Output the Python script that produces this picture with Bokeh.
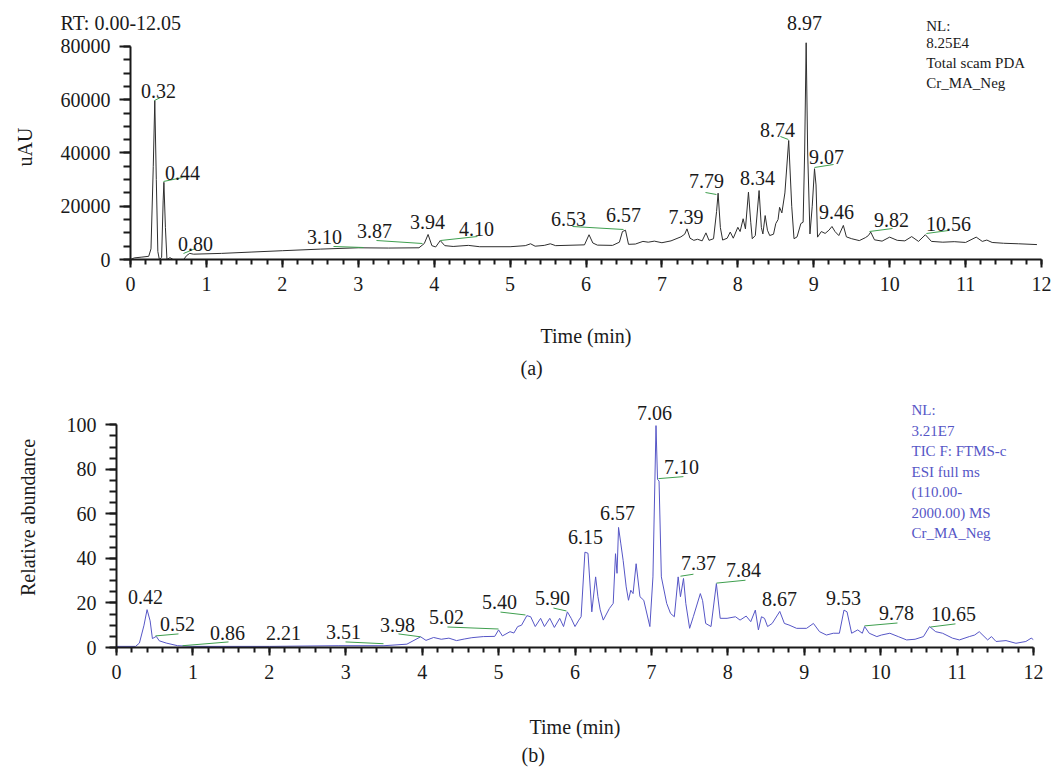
from bokeh.plotting import figure
from bokeh.models import (Range1d, SingleIntervalTicker, BasicTickFormatter,
                          ColumnDataSource, LabelSet, Label, Title)
from bokeh.core.properties import value
from bokeh.embed import file_html
from bokeh.resources import INLINE

FONT = "Liberation Serif"
INK = "#1a1a1a"
GREEN = "#3f9f4f"
BLUE = "#5656c6"

# ---------------- (a) PDA trace ----------------
pda_time = [0.00, 0.05, 0.15, 0.24, 0.27, 0.30, 0.32, 0.34, 0.36, 0.38, 0.41, 0.43, 0.44, 0.46,
            0.48, 0.52, 0.56, 0.70, 0.74, 0.78, 0.83, 1.2, 1.6, 2.0, 2.5, 3.0, 3.4, 3.8, 3.87,
            3.92, 3.97, 4.02, 4.08, 4.14, 4.25, 4.45, 4.6, 5.0, 5.2, 5.27, 5.33, 5.45, 5.53, 5.6,
            5.98, 6.04, 6.09, 6.15, 6.35, 6.44, 6.48, 6.52, 6.56, 6.65, 6.75, 6.82, 6.9, 7.0,
            7.12, 7.25, 7.3, 7.33, 7.37, 7.42, 7.47, 7.53, 7.58, 7.62, 7.68, 7.72, 7.74, 7.77,
            7.80, 7.86, 7.90, 7.94, 8.00, 8.03, 8.07, 8.10, 8.14, 8.17, 8.19, 8.23, 8.28, 8.31,
            8.33, 8.36, 8.39, 8.42, 8.47, 8.50, 8.53, 8.55, 8.58, 8.62, 8.67, 8.71, 8.74, 8.78,
            8.83, 8.86, 8.88, 8.90, 8.92, 8.95, 8.98, 9.01, 9.03, 9.05, 9.10, 9.15, 9.20, 9.24,
            9.28, 9.33, 9.39, 9.43, 9.5, 9.6, 9.68, 9.72, 9.75, 9.80, 9.9, 10.0, 10.1, 10.2,
            10.29, 10.38, 10.47, 10.55, 10.7, 10.85, 11.0, 11.14, 11.22, 11.28, 11.35, 11.5,
            11.7, 11.94]
pda_uau = [0, 600, 900, 1200, 4000, 35000, 59700, 30000, 3000, 0, 800, 22000, 29000, 12000,
           0, 700, 0, 0, 1500, 2300, 2000, 2300, 2800, 3300, 3900, 4400, 4300, 4400, 6000,
           9400, 5200, 4700, 7100, 5200, 4900, 5300, 4800, 4800, 5200, 5900, 5000, 5300, 5900, 5200,
           5500, 9300, 6200, 5400, 5300, 6500, 10500, 11000, 5700, 5800, 6800, 6500, 6900, 6300,
           7000, 8500, 9500, 11500, 8000, 7200, 7600, 7000, 10000, 7200, 7800, 18000, 24900, 12000,
           7300, 8000, 10300, 8000, 12100, 10500, 15300, 11500, 25300, 14000, 7800, 9000, 25900, 12000,
           9600, 16500, 11000, 9000, 9500, 13500, 15000, 19600, 17500, 25000, 44700, 20000, 7800, 8500,
           13500, 14000, 40000, 81400, 40000, 9600, 20000, 34100, 28000, 8400, 10500, 9800, 11000, 12400,
           10500, 9000, 12800, 8500, 7800, 7100, 8200, 9000, 10300, 7400, 6900, 8400, 7200, 7000,
           8600, 6800, 9300, 6800, 6500, 6700, 6400, 8400, 6800, 7300, 6400, 6100,
           5900, 5600]

pda_peak_text = ["0.32", "0.44", "0.80", "3.10", "3.87", "3.94", "4.10", "6.53", "6.57",
                 "7.39", "7.79", "8.34", "8.74", "8.97", "9.07", "9.46", "9.82", "10.56"]
pda_label_x = [0.369, 0.685, 0.856, 2.555, 3.214, 3.912, 4.557, 5.769, 6.494,
               7.317, 7.587, 8.259, 8.522, 8.878, 9.168, 9.300, 10.024, 10.774]
pda_label_y = [63474, 32676, 6009, 8263, 10892, 13897, 11643, 15399, 16526,
               15775, 29671, 30423, 48451, 88826, 38310, 17653, 14648, 13521]
pda_lead_x0 = [0.316, 0.435, 0.698, 2.674, 3.240, 4.083, 5.822, 7.574, 8.561, 9.010, 9.734, 10.484]
pda_lead_y0 = [59718, 29296, 2254, 4883, 7136, 7136, 12394, 25164, 46197, 34554, 10516, 9764]
pda_lead_x1 = [0.395, 0.685, 0.856, 3.069, 3.846, 4.570, 6.494, 7.718, 8.666, 9.261, 10.037, 10.774]
pda_lead_y1 = [60845, 30798, 4131, 4507, 6009, 8638, 11268, 24413, 45070, 35681, 11643, 10892]

# ---------------- (b) TIC trace ----------------
tic_time = [0.00, 0.25, 0.30, 0.36, 0.40, 0.44, 0.47, 0.52, 0.56, 0.65, 0.80, 1.00, 2.00, 2.90,
            3.50, 3.80, 3.98, 4.05, 4.15, 4.25, 4.35, 4.45, 4.55, 4.65, 4.80, 4.95, 5.00, 5.05,
            5.15, 5.20, 5.25, 5.30, 5.37, 5.42, 5.48, 5.55, 5.60, 5.67, 5.73, 5.80, 5.85, 5.90,
            5.95, 6.00, 6.05, 6.08, 6.13, 6.17, 6.22, 6.27, 6.30, 6.33, 6.37, 6.45, 6.50, 6.53,
            6.55, 6.57, 6.60, 6.63, 6.67, 6.70, 6.73, 6.76, 6.80, 6.85, 6.90, 6.98, 7.02, 7.06,
            7.08, 7.10, 7.13, 7.20, 7.25, 7.30, 7.35, 7.38, 7.42, 7.45, 7.50, 7.55, 7.64, 7.67,
            7.71, 7.78, 7.85, 7.90, 7.99, 8.10, 8.16, 8.24, 8.30, 8.36, 8.40, 8.44, 8.48, 8.52,
            8.58, 8.68, 8.74, 8.80, 8.90, 9.03, 9.12, 9.20, 9.29, 9.38, 9.46, 9.52, 9.56, 9.62,
            9.70, 9.76, 9.79, 9.85, 9.95, 10.01, 10.12, 10.23, 10.34, 10.45, 10.56, 10.64, 10.72,
            10.81, 10.94, 11.03, 11.16, 11.23, 11.29, 11.40, 11.45, 11.51, 11.64, 11.77, 11.90,
            11.97, 12.00]
tic_rel = [0.5, 0.5, 2, 10, 17, 12, 4, 5, 3, 2, 0.8, 0.5, 0.5, 0.8,
           0.8, 1.5, 4.8, 3.2, 4.5, 3.7, 4.2, 3.1, 3.8, 4.4, 4.9, 5.0, 7.9, 5.2,
           7.1, 6.5, 9.4, 10, 14.3, 13.8, 9.4, 13.1, 9.4, 13.1, 9.0, 13.1, 9.4, 16.0,
           13.1, 9.4, 12.3, 13.8, 42.8, 42.3, 16, 31.7, 22.8, 16.9, 12.3, 17.5, 19.8, 42.1,
           33.3, 53.9, 46.5, 39.1, 27.2, 21.2, 25.7, 24.2, 37.6, 22.8, 21.2, 9.4, 31.7, 99.6,
           75.5, 74.7, 31.7, 19.8, 15.3, 13.8, 31.7, 22.8, 31.0, 19.8, 8.6, 14, 24.2, 21,
           10.8, 9.4, 28.7, 13.1, 13.1, 13.8, 12.3, 14.1, 11.6, 16.8, 7.9, 13.8, 13.1, 9.4,
           10.8, 16.2, 10.8, 10.1, 8.6, 8.6, 10.8, 7.1, 5.6, 6.4, 6.4, 16.8, 16.0, 6.4,
           7.9, 6.4, 9.4, 6.4, 4.9, 5.6, 6.4, 4.9, 3.4, 3.7, 4.9, 9.4, 7.1,
           6.4, 4.2, 3.4, 4.9, 5.6, 7.1, 3.4, 4.9, 2.7, 3.1, 1.9, 2.7,
           4.2, 3.5]

tic_peak_text = ["0.42", "0.52", "0.86", "2.21", "3.51", "3.98", "5.02", "5.40", "5.90", "6.15",
                 "6.57", "7.06", "7.10", "7.37", "7.84", "8.67", "9.53", "9.78", "10.65"]
tic_label_x = [0.379, 0.798, 1.452, 2.185, 2.970, 3.677, 4.318, 5.012, 5.705, 6.137,
               6.556, 7.040, 7.393, 7.616, 8.205, 8.676, 9.514, 10.207, 10.953]
tic_label_y = [22.8, 10.6, 6.6, 6.6, 7.1, 10.1, 13.8, 20.5, 22.2, 49.6,
               60.3, 105.4, 80.8, 38.1, 34.7, 21.7, 22.2, 15.5, 15.0]
tic_lead_x0 = [0.510, 0.864, 2.997, 3.690, 4.331, 5.025, 5.718, 7.092, 7.380, 7.851, 9.788, 10.652]
tic_lead_y0 = [5.2, 0.8, 2.5, 6.1, 9.2, 15.9, 17.7, 75.8, 32.0, 28.9, 9.7, 9.2]
tic_lead_x1 = [0.811, 1.466, 3.494, 3.978, 4.999, 5.352, 5.888, 7.419, 7.550, 8.231, 10.220, 10.979]
tic_lead_y1 = [6.1, 2.5, 1.7, 4.8, 8.3, 14.6, 16.4, 76.7, 32.9, 30.2, 11.0, 10.6]

# upper end of panel (a)'s frame and of the header strip above it (same uAU scale)
PDA_TOP = 84507.0
PDA_HEADER_TOP = 97277.0


def style(p):
    p.grid.visible = False
    p.outline_line_color = None
    p.background_fill_color = "white"
    p.border_fill_color = "white"
    for ax in p.axis:
        ax.axis_line_width = 2
        ax.axis_line_color = INK
        ax.major_tick_line_width = 2
        ax.minor_tick_line_width = 2
        ax.major_tick_line_color = INK
        ax.minor_tick_line_color = INK
        ax.major_tick_in = 0
        ax.minor_tick_in = 0
        ax.major_label_text_font = FONT
        ax.major_label_text_font_size = "20px"
        ax.major_label_text_color = INK
        ax.axis_label_text_font = FONT
        ax.axis_label_text_font_size = "20px"
        ax.axis_label_text_font_style = "normal"
        ax.axis_label_text_color = INK
    p.xaxis.major_tick_out = 8
    p.xaxis.minor_tick_out = 5
    p.yaxis.major_tick_out = 11
    p.yaxis.minor_tick_out = 7
    p.xaxis.ticker = SingleIntervalTicker(interval=1, num_minor_ticks=5)
    p.xaxis.major_label_standoff = 9
    p.yaxis.major_label_standoff = 9
    p.xaxis.axis_label = "Time (min)"


def text_label(p, x, y, txt, size="20px", color=INK, align="center", baseline="middle", lh=1.2):
    p.add_layout(Label(x=x, y=y, text=txt, text_font=FONT, text_font_size=size,
                       text_color=color, text_align=align, text_baseline=baseline,
                       text_line_height=lh))


def sub_title(p, txt, off, standoff):
    p.add_layout(Title(text=txt, align="left", offset=off, standoff=standoff, text_font=FONT,
                       text_font_size="20px", text_font_style="normal", text_color=INK),
                 "below")


def peak_labels(p, xs, ys, ts):
    src = ColumnDataSource(dict(x=xs, y=ys, t=ts))
    p.add_layout(LabelSet(x="x", y="y", text="t", source=src, text_font=value(FONT),
                          text_font_size="20px", text_color=INK, text_align="center",
                          text_baseline="middle"))


# ---------- header strip above panel (a) (same x / uAU scale) ----------
h = figure(width=1054, height=34, x_range=Range1d(-1.7123, 12.1707),
           y_range=Range1d(PDA_TOP, PDA_HEADER_TOP), output_backend="svg",
           toolbar_location=None, min_border=0, min_border_left=0, min_border_right=0,
           min_border_top=0, min_border_bottom=0)
h.axis.visible = False
h.grid.visible = False
h.outline_line_color = None
h.background_fill_color = "white"
h.border_fill_color = "white"
peak_labels(h, pda_label_x[13:14], pda_label_y[13:14], pda_peak_text[13:14])
text_label(h, -0.922, 88826, "RT: 0.00-12.05", align="left")
text_label(h, 10.481, 87887, "NL:", size="15px", align="left")

# ---------- figure (a) ----------
p1 = figure(width=1054, height=351, x_range=Range1d(0, 12), y_range=Range1d(0, PDA_TOP),
            output_backend="svg", toolbar_location=None,
            min_border_left=130, min_border_right=13, min_border_top=0, min_border_bottom=126)
style(p1)
p1.yaxis.ticker = SingleIntervalTicker(interval=20000, num_minor_ticks=4)
p1.yaxis.bounds = (0, 80000)
p1.yaxis.formatter = BasicTickFormatter(use_scientific=False)
p1.yaxis.axis_label = "uAU"
p1.yaxis.axis_label_standoff = 22
p1.xaxis.axis_label_standoff = 31

p1.line(pda_time, pda_uau, line_color="#2e2e2e", line_width=1)
p1.segment(x0=pda_lead_x0, y0=pda_lead_y0, x1=pda_lead_x1, y1=pda_lead_y1,
           line_color=GREEN, line_width=1)
peak_labels(p1, pda_label_x[:13] + pda_label_x[14:], pda_label_y[:13] + pda_label_y[14:],
            pda_peak_text[:13] + pda_peak_text[14:])
text_label(p1, 10.481, 84200, "8.25E4\nTotal scam PDA\nCr_MA_Neg", size="15px",
           align="left", baseline="top", lh=1.25)
sub_title(p1, "(a)", 390, 10)

# ---------- figure (b) ----------
p2 = figure(width=1054, height=384, x_range=Range1d(0, 12), y_range=Range1d(0, 116.71),
            output_backend="svg", toolbar_location=None,
            min_border_left=116, min_border_right=21, min_border_top=2, min_border_bottom=122)
style(p2)
p2.yaxis.ticker = SingleIntervalTicker(interval=20, num_minor_ticks=4)
p2.yaxis.bounds = (0, 100)
p2.yaxis.axis_label = "Relative abundance"
p2.yaxis.axis_label_standoff = 25
p2.xaxis.axis_label_standoff = 34

p2.line(tic_time, tic_rel, line_color=BLUE, line_width=1)
p2.segment(x0=tic_lead_x0, y0=tic_lead_y0, x1=tic_lead_x1, y1=tic_lead_y1,
           line_color=GREEN, line_width=1)
peak_labels(p2, tic_label_x, tic_label_y, tic_peak_text)
text_label(p2, 10.403, 110.0,
           "NL:\n3.21E7\nTIC F: FTMS-c\nESI full ms\n(110.00-\n2000.00) MS\nCr_MA_Neg",
           size="15px", color=BLUE, align="left", baseline="top", lh=1.28)
sub_title(p2, "(b)", 405, 3)

open("out.html", "w").write(file_html([h, p1, p2], INLINE))
